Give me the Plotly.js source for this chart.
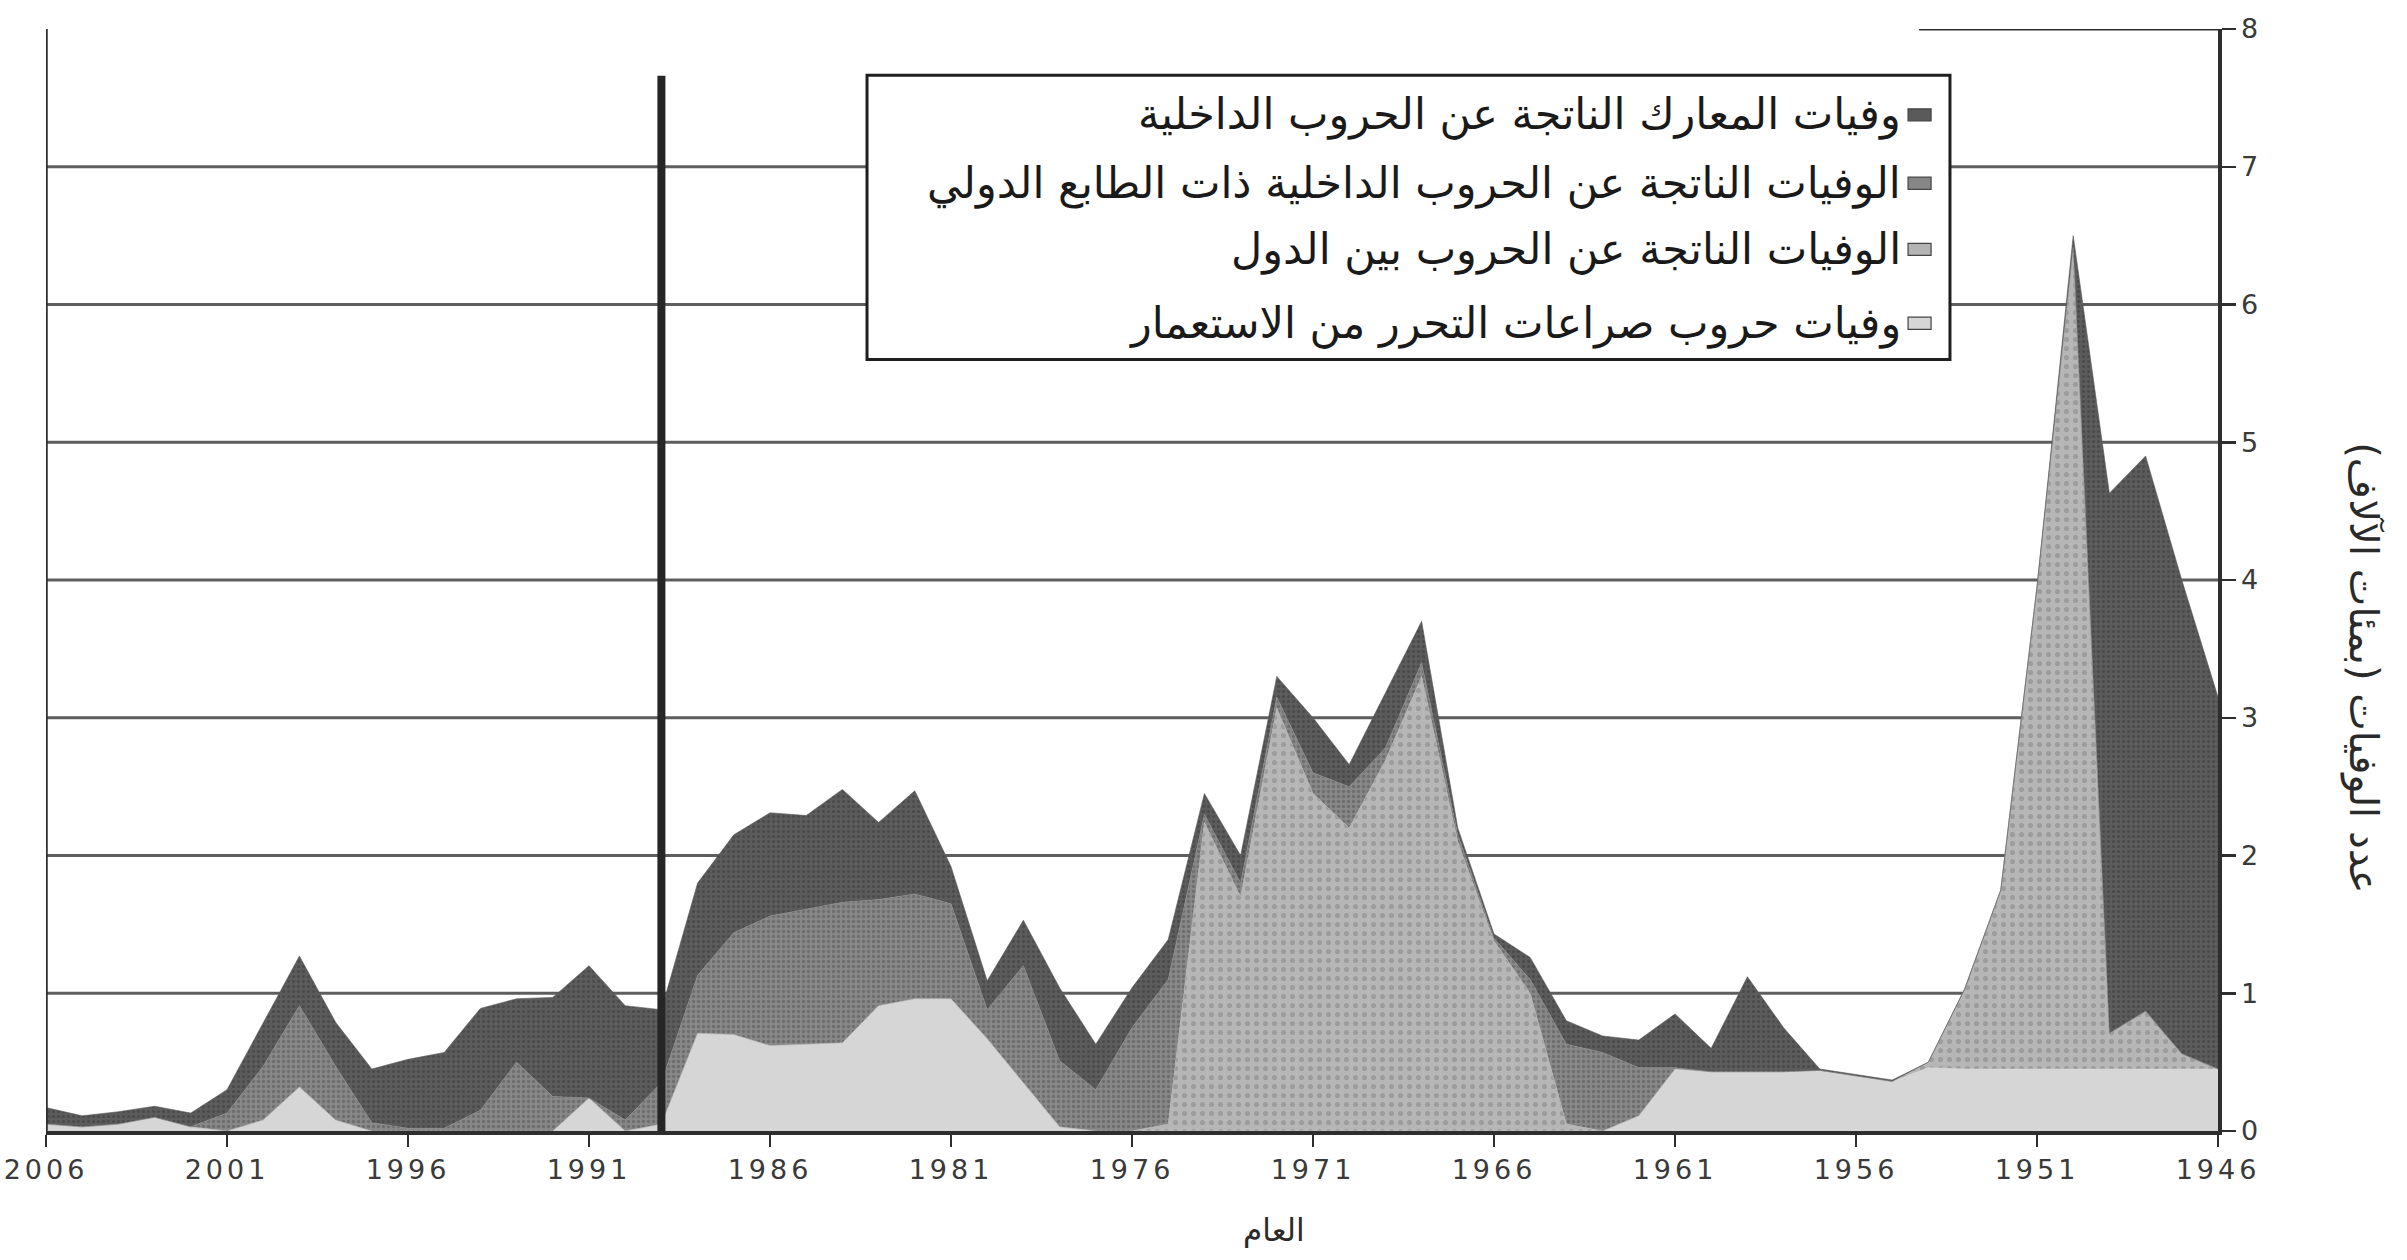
<!DOCTYPE html>
<html>
<head>
<meta charset="utf-8">
<script src="https://cdn.plot.ly/plotly-3.0.1.min.js"></script>
<style>
  html, body { margin: 0; padding: 0; background: #ffffff; }
  #chart { width: 2407px; height: 1260px; }
  .xtick text { letter-spacing: 4px; }
</style>
</head>
<body>
<div id="chart"></div>
<script>
// ---- data (hundreds of thousands of battle deaths), years ascending ----
const years = [1946,1947,1948,1949,1950,1951,1952,1953,1954,1955,1956,1957,1958,1959,1960,
  1961,1962,1963,1964,1965,1966,1967,1968,1969,1970,1971,1972,1973,1974,1975,1976,1977,1978,
  1979,1980,1981,1982,1983,1984,1985,1986,1987,1988,1989,1990,1991,1992,1993,1994,1995,1996,
  1997,1998,1999,2000,2001,2002,2003,2004,2005,2006];

// bottom layer: colonial / extrasystemic wars
const colonial = [0.45,0.45,0.45,0.45,0.45,0.45,0.45,0.45,0.46,0.36,0.40,0.44,0.43,0.43,0.43,
  0.45,0.11,0,0,0,0,0,0,0,0,0,0,0,0,0,0,0,0.03,
  0.35,0.67,0.96,0.96,0.91,0.64,0.63,0.62,0.70,0.71,0.05,0,0.24,0,0,0,0,0,
  0,0.08,0.32,0.08,0,0.03,0.10,0.05,0.03,0.05];

// interstate wars
const interstate = [0,0.11,0.42,0.26,5.95,3.50,1.30,0.58,0.04,0,0,0,0,0,0,
  0,0,0,0.05,1.00,1.38,2.10,3.30,2.69,2.20,2.45,3.07,1.70,2.24,0.05,0,0,0,
  0,0,0,0,0,0,0,0,0,0,0,0,0,0,0,0,0,0,
  0,0,0,0,0,0,0,0,0,0];

// internationalized internal wars
const internationalized = [0,0,0,0,0.02,0,0,0,0,0,0,0,0,0,0,
  0.01,0.35,0.57,0.58,0.10,0.02,0.05,0.10,0.09,0.30,0.15,0.08,0.10,0.06,1.05,0.75,0.30,0.48,
  0.85,0.21,0.69,0.76,0.77,1.02,0.98,0.94,0.74,0.42,0.30,0.08,0,0.25,0.50,0.15,0.02,0.02,
  0.06,0.39,0.59,0.39,0.13,0,0,0,0,0];

// internal (civil) wars
const intrastate = [2.70,3.44,4.03,3.92,0.08,0,0,0,0,0.01,0.01,0.01,0.32,0.69,0.17,
  0.39,0.20,0.12,0.17,0.16,0.03,0.05,0.30,0.40,0.16,0.40,0.15,0.20,0.15,0.29,0.29,0.33,0.53,
  0.33,0.21,0.27,0.75,0.56,0.82,0.68,0.75,0.71,0.67,0.53,0.83,0.96,0.72,0.46,0.74,0.55,0.50,
  0.39,0.32,0.36,0.32,0.17,0.10,0.08,0.09,0.08,0.12];

// legend labels, top to bottom
const legendLabels = [
  "وفيات المعارك الناتجة عن الحروب الداخلية",
  "الوفيات الناتجة عن الحروب الداخلية ذات الطابع الدولي",
  "الوفيات الناتجة عن الحروب بين الدول",
  "وفيات حروب صراعات التحرر من الاستعمار"
];
const xTitle = "العام";
const yTitle = "عدد الوفيات (بمئات الآلاف)";
const xTickVals = [2006,2001,1996,1991,1986,1981,1976,1971,1966,1961,1956,1951,1946];
const yTickVals = [0,1,2,3,4,5,6,7,8];
const coldWarEnd = 1989;

// ---- styling ----
const colors = { colonial: "#d6d6d6", interstate: "#b4b4b4", internationalized: "#868686", intrastate: "#5a5a5a" };
const patterns = {
  colonial: null,
  interstate: { shape: ".", fgcolor: "#9c9c9c", bgcolor: "#b6b6b6", size: 9, solidity: 0.25 },
  internationalized: { shape: ".", fgcolor: "#6e6e6e", bgcolor: "#888888", size: 5, solidity: 0.35 },
  intrastate: { shape: ".", fgcolor: "#4a4a4a", bgcolor: "#5c5c5c", size: 5, solidity: 0.3 }
};
const seriesOrder = [
  { y: colonial, key: "colonial", name: legendLabels[3] },
  { y: interstate, key: "interstate", name: legendLabels[2] },
  { y: internationalized, key: "internationalized", name: legendLabels[1] },
  { y: intrastate, key: "intrastate", name: legendLabels[0] }
];

const traces = seriesOrder.map(s => {
  const t = {
    type: "scatter",
    mode: "lines",
    x: years,
    y: s.y,
    name: s.name,
    stackgroup: "deaths",
    line: { width: 0.6, color: colors[s.key], shape: "linear" },
    fillcolor: colors[s.key],
    showlegend: false,
    hoverinfo: "x+y+name"
  };
  if (patterns[s.key]) t.fillpattern = patterns[s.key];
  return t;
});

const arabicFont = "DejaVu Sans, Noto Sans, sans-serif";

const shapes = [];
// horizontal gridlines (below the areas)
yTickVals.slice(1, -1).forEach(v => {
  shapes.push({ type: "line", layer: "below", xref: "x", yref: "y",
    x0: xTickVals[0], x1: xTickVals[xTickVals.length - 1], y0: v, y1: v,
    line: { color: "#5e5e5e", width: 3 } });
});
// left frame line
shapes.push({ type: "line", layer: "above", xref: "x", yref: "y",
  x0: xTickVals[0], x1: xTickVals[0], y0: 0, y1: yTickVals[yTickVals.length - 1],
  line: { color: "#2e2e2e", width: 3.5 } });
// visible part of top frame line (right side)
shapes.push({ type: "line", layer: "above", xref: "paper", yref: "y",
  x0: 0.8624, x1: 1, y0: 8, y1: 8, line: { color: "#2e2e2e", width: 3 } });
// thick vertical marker at 1989
shapes.push({ type: "line", layer: "above", xref: "x", yref: "y",
  x0: coldWarEnd, x1: coldWarEnd, y0: 0, y1: 7.66,
  line: { color: "#262626", width: 8 } });

// manual legend box
const box = { x0: 0.378, x1: 0.8766, y0: 0.700, y1: 0.958 };
shapes.push({ type: "rect", layer: "above", xref: "paper", yref: "paper",
  x0: box.x0, x1: box.x1, y0: box.y0, y1: box.y1,
  fillcolor: "#ffffff", line: { color: "#1e1e1e", width: 3 } });

const rowY = [0.922, 0.860, 0.800, 0.733];
const swatchColors = [colors.intrastate, colors.internationalized, colors.interstate, colors.colonial];
const annotations = [];
rowY.forEach((ry, i) => {
  shapes.push({ type: "rect", layer: "above", xref: "paper", yref: "paper",
    x0: 0.8573, x1: 0.8679, y0: ry - 0.0055, y1: ry + 0.0055,
    fillcolor: swatchColors[i], line: { color: "#444", width: 1.2 } });
  annotations.push({ xref: "paper", yref: "paper", x: 0.8550, y: ry,
    xanchor: "right", yanchor: "middle", showarrow: false,
    text: legendLabels[i], font: { family: arabicFont, size: 43, color: "#1a1a1a" } });
});

// axis titles as annotations
annotations.push({ xref: "paper", yref: "paper", x: 0.5654, y: -0.09,
  xanchor: "center", yanchor: "middle", showarrow: false,
  text: xTitle, font: { family: arabicFont, size: 31, color: "#2a2a2a" } });
annotations.push({ xref: "paper", yref: "paper", x: 1.0672, y: 0.42,
  xanchor: "center", yanchor: "middle", showarrow: false, textangle: 90,
  text: yTitle, font: { family: arabicFont, size: 40, color: "#2a2a2a" } });

const layout = {
  width: 2407, height: 1260,
  margin: { l: 46, r: 189, t: 29, b: 129 },
  paper_bgcolor: "#ffffff",
  plot_bgcolor: "#ffffff",
  showlegend: false,
  xaxis: {
    range: [xTickVals[0], xTickVals[xTickVals.length - 1]],
    tickmode: "array", tickvals: xTickVals, ticktext: xTickVals.map(String),
    ticks: "outside", ticklen: 12, tickwidth: 2.5, tickcolor: "#2e2e2e",
    ticklabeloverflow: "allow",
    showline: true, linecolor: "#2e2e2e", linewidth: 3.5,
    showgrid: false, zeroline: false,
    tickfont: { family: "DejaVu Sans, sans-serif", size: 27, color: "#3a3a3a" }
  },
  yaxis: {
    side: "right", range: [0, 8],
    tickmode: "array", tickvals: yTickVals, ticktext: yTickVals.map(String),
    ticks: "outside", ticklen: 14, tickwidth: 2.5, tickcolor: "#2e2e2e",
    showline: true, linecolor: "#2e2e2e", linewidth: 3.5,
    showgrid: false, zeroline: false,
    tickfont: { family: "DejaVu Sans, sans-serif", size: 27, color: "#3a3a3a" }
  },
  shapes: shapes,
  annotations: annotations
};

Plotly.newPlot("chart", traces, layout, { staticPlot: true, displayModeBar: false });
</script>
</body>
</html>
